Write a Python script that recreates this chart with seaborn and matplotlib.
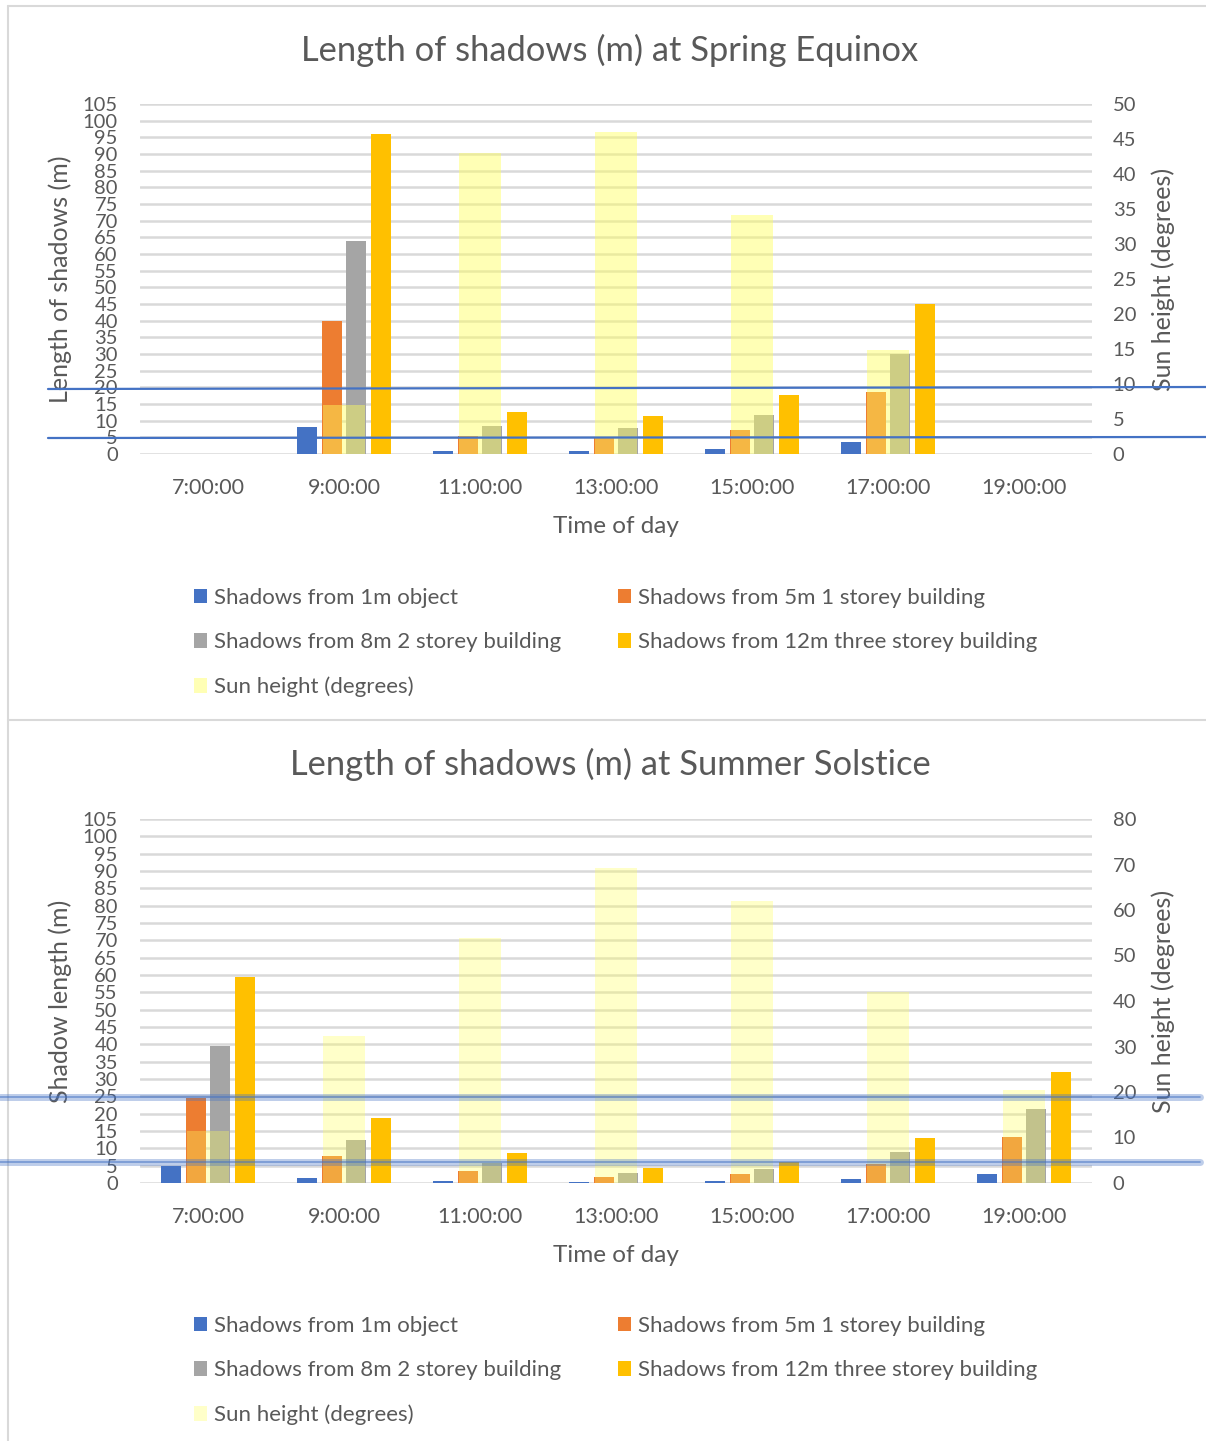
import matplotlib
matplotlib.use("Agg")
import matplotlib.pyplot as plt
from matplotlib.lines import Line2D
from matplotlib.patches import Patch
import seaborn as sns
import pandas as pd

sns.set_theme(style="white")
plt.rcParams["font.family"] = ["Lato", "DejaVu Sans"]
TXT = "#595959"

# data
times = ["7:00:00", "9:00:00", "11:00:00", "13:00:00", "15:00:00", "17:00:00", "19:00:00"]
series = ["Shadows from 1m object", "Shadows from 5m 1 storey building",
          "Shadows from 8m 2 storey building", "Shadows from 12m three storey building"]
colors = ["#4472C4", "#ED7D31", "#A5A5A5", "#FFC000"]
sun_label = "Sun height (degrees)"
sun_color = "#FFFF5C"

spring_1m = [0, 8.0, 1.0, 0.8, 1.4, 3.7, 0]
spring_5m = [0, 40.0, 5.3, 4.8, 7.3, 18.7, 0]
spring_8m = [0, 64.0, 8.5, 7.7, 11.7, 30.0, 0]
spring_12m = [0, 96.0, 12.7, 11.4, 17.6, 45.0, 0]
spring_sun = [0, 7.0, 43.0, 46.0, 34.2, 14.8, 0]

summer_1m = [4.8, 1.5, 0.7, 0.4, 0.5, 1.1, 2.6]
summer_5m = [24.6, 7.8, 3.5, 1.8, 2.5, 5.5, 13.3]
summer_8m = [39.6, 12.5, 5.8, 3.0, 4.1, 8.8, 21.4]
summer_12m = [59.4, 18.8, 8.6, 4.4, 6.2, 13.1, 32.0]
summer_sun = [11.4, 32.3, 53.8, 69.2, 62.0, 42.0, 20.4]

W, H = 1206, 1441


def fx(x):
    return x / W


def fy(y):
    return 1 - y / H


fig = plt.figure(figsize=(W / 100, H / 100), dpi=100)


def draw_chart(top, bottom, shadows, sun, sun_max, sun_step, sun_alpha,
               title, ylabel, title_y, leg_y):
    ax = fig.add_axes([fx(140), fy(bottom), fx(1092) - fx(140), (bottom - top) / H])
    df = pd.DataFrame({
        "time": times * 4,
        "series": [s for s in series for _ in times],
        "length": [v for vals in shadows for v in vals],
    })
    sns.barplot(data=df, x="time", y="length", hue="series", hue_order=series,
                order=times, palette=colors, width=0.72, gap=0.19, saturation=1,
                linewidth=0, legend=False, ax=ax, zorder=2)
    ax.set_ylim(0, 105)
    ax.set_yticks(range(0, 106, 5))
    ax.grid(axis="y", color="#D9D9D9", linewidth=1.8, zorder=0)
    ax.set_axisbelow(True)
    for s in ax.spines.values():
        s.set_visible(False)
    ax.tick_params(axis="y", length=0, pad=16, labelsize=14.5, labelcolor=TXT)
    ax.tick_params(axis="x", length=0, pad=17, labelsize=15.5, labelcolor=TXT)
    ax.set_xlabel("Time of day", fontsize=17.5, color=TXT, labelpad=13)
    ax.set_ylabel(ylabel, fontsize=18, color=TXT)
    ax.yaxis.set_label_coords((72 - 140) / 952, 0.5)

    ax2 = ax.twinx()
    sns.barplot(x=times, y=sun, order=times, color=sun_color, alpha=sun_alpha,
                width=0.31, saturation=1, linewidth=0, ax=ax2)
    ax2.set_ylim(0, sun_max)
    ax2.set_yticks(range(0, sun_max + 1, sun_step))
    for s in ax2.spines.values():
        s.set_visible(False)
    ax2.tick_params(axis="y", length=0, pad=15, labelsize=14.5, labelcolor=TXT)
    ax2.set_ylabel(sun_label, fontsize=18, color=TXT)
    ax2.yaxis.set_label_coords((1151 - 140) / 952, 0.5)
    ax2.grid(False)
    ax.set_xlim(-0.5, 6.5)

    fig.text(fx(610), fy(title_y), title, fontsize=24.8, color=TXT, ha="center", va="center")

    handles = [Patch(facecolor=c, edgecolor="none") for c in colors]
    handles.append(Patch(facecolor=sun_color, alpha=sun_alpha, edgecolor="none"))
    labels = series + [sun_label]
    order = [0, 2, 4, 1, 3]
    fig.legend([handles[i] for i in order], [labels[i] for i in order],
               loc="upper left", bbox_to_anchor=(fx(185), fy(leg_y)), ncol=2,
               frameon=False, fontsize=16, labelcolor=TXT, handlelength=0.6,
               handleheight=0.6, handletextpad=0.3, labelspacing=1.1,
               columnspacing=2.55, borderaxespad=0)


draw_chart(104, 454, [spring_1m, spring_5m, spring_8m, spring_12m], spring_sun,
           50, 5, 0.45, "Length of shadows (m) at Spring Equinox",
           "Length of shadows (m)", 50, 579)
draw_chart(819, 1183, [summer_1m, summer_5m, summer_8m, summer_12m], summer_sun,
           80, 10, 0.33, "Length of shadows (m) at Summer Solstice",
           "Shadow length (m)", 764, 1307)

# chart frames
frame = dict(color="#D9D9D9", linewidth=1.5, transform=fig.transFigure)
fig.add_artist(Line2D([fx(8), fx(8)], [fy(6), fy(1441)], **frame))
fig.add_artist(Line2D([fx(8), fx(1206)], [fy(6), fy(6)], **frame))
fig.add_artist(Line2D([fx(8), fx(1206)], [fy(720), fy(720)], **frame))

# blue marker lines drawn over the charts
fig.add_artist(Line2D([fx(48), fx(1206)], [fy(389), fy(387)], color="#4472C4",
                      linewidth=1.6, transform=fig.transFigure))
fig.add_artist(Line2D([fx(48), fx(1206)], [fy(438), fy(437)], color="#4472C4",
                      linewidth=1.6, transform=fig.transFigure))
for yy in (1097, 1162):
    fig.add_artist(Line2D([fx(0), fx(1200)], [fy(yy), fy(yy)], color="#4472C4",
                          linewidth=5, alpha=0.35, transform=fig.transFigure))
    fig.add_artist(Line2D([fx(0), fx(1200)], [fy(yy), fy(yy)], color="#4472C4",
                          linewidth=1.2, alpha=0.6, transform=fig.transFigure))

fig.savefig("out.png", dpi=100)
